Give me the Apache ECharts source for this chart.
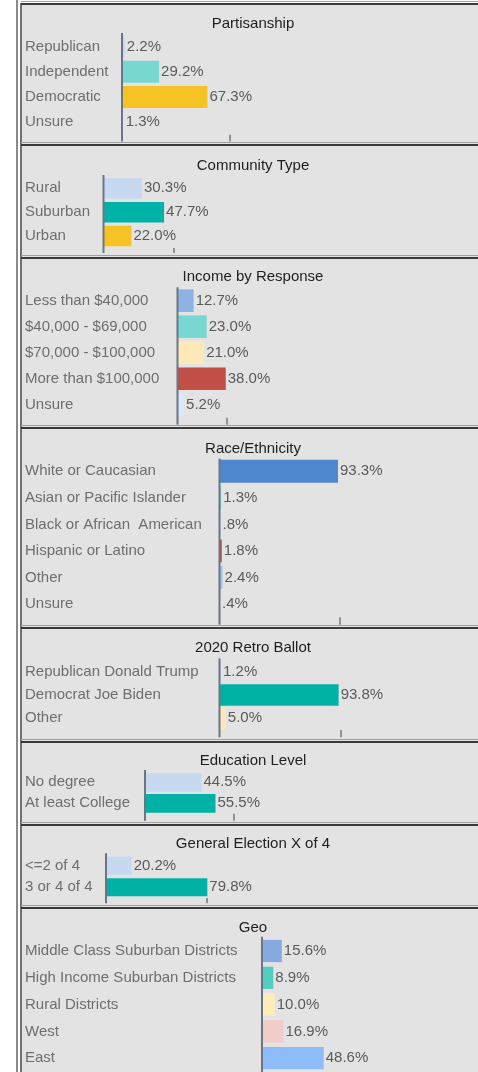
<!DOCTYPE html>
<html>
<head>
<meta charset="utf-8">
<title>Survey Profile</title>
<script src="https://cdn.jsdelivr.net/npm/echarts@6/dist/echarts.min.js"></script>
<style>
  html, body { margin: 0; padding: 0; background: #ffffff; overflow: hidden; }
  #chart { width: 478px; height: 1072px; }
</style>
</head>
<body>
<div id="chart"></div>
<script>
// ---- data ----
const partisanshipCats = ['Republican', 'Independent', 'Democratic', 'Unsure'];
const partisanshipVals = [2.2, 29.2, 67.3, 1.3];

const communityCats = ['Rural', 'Suburban', 'Urban'];
const communityVals = [30.3, 47.7, 22.0];

const incomeCats = ['Less than $40,000', '$40,000 - $69,000', '$70,000 - $100,000', 'More than $100,000', 'Unsure'];
const incomeVals = [12.7, 23.0, 21.0, 38.0, 5.2];

const raceCats = ['White or Caucasian', 'Asian or Pacific Islander', 'Black or African  American', 'Hispanic or Latino', 'Other', 'Unsure'];
const raceVals = [93.3, 1.3, 0.8, 1.8, 2.4, 0.4];

const ballotCats = ['Republican Donald Trump', 'Democrat Joe Biden', 'Other'];
const ballotVals = [1.2, 93.8, 5.0];

const educationCats = ['No degree', 'At least College'];
const educationVals = [44.5, 55.5];

const generalCats = ['<=2 of 4', '3 or 4 of 4'];
const generalVals = [20.2, 79.8];

const geoCats = ['Middle Class Suburban Districts', 'High Income Suburban Districts', 'Rural Districts', 'West', 'East'];
const geoVals = [15.6, 8.9, 10.0, 16.9, 48.6];

// single tick mark shown under each value axis
const partisanshipTick = [85];
const communityTick = [55];
const incomeTick = [38.5];
const raceTick = [95];
const ballotTick = [95.5];
const educationTick = [70];
const generalTick = [79];
const geoTick = [];

// ---- styling ----
const LIGHT_BLUE = '#c6d9f0';
const TEAL = '#00b2a5';
const AQUA = '#78d8d1';
const GOLD = '#f6c325';
const CREAM = '#fde9b8';
const RED = '#c24f45';
const PALE = '#dce9f8';

const panels = [
  { title: 'Partisanship', cats: partisanshipCats, vals: partisanshipVals, tick: partisanshipTick,
    colors: [LIGHT_BLUE, AQUA, GOLD, PALE],
    top: 4, titleY: 24, axisX: 122, bandTop: 34, band: 25.2, lineTop: 33, lineBottom: 141.5, gap: '13%' },
  { title: 'Community Type', cats: communityCats, vals: communityVals, tick: communityTick,
    colors: [LIGHT_BLUE, TEAL, GOLD],
    top: 145, titleY: 165.7, axisX: 103.5, bandTop: 176.4, band: 23.85, lineTop: 175, lineBottom: 253, gap: '14%' },
  { title: 'Income by Response', cats: incomeCats, vals: incomeVals, tick: incomeTick,
    colors: ['#8db3e2', AQUA, CREAM, RED, PALE],
    top: 258, titleY: 277.3, axisX: 177.5, bandTop: 287.7, band: 26, lineTop: 287.3, lineBottom: 424.7, gap: '13%' },
  { title: 'Race/Ethnicity', cats: raceCats, vals: raceVals, tick: raceTick,
    colors: ['#4f87cf', AQUA, LIGHT_BLUE, RED, '#9fc3ee', PALE],
    top: 428, titleY: 448.7, axisX: 219.5, bandTop: 458, band: 26.55, lineTop: 458.7, lineBottom: 624.7, gap: '14%' },
  { title: '2020 Retro Ballot', cats: ballotCats, vals: ballotVals, tick: ballotTick,
    colors: [LIGHT_BLUE, TEAL, CREAM],
    top: 628, titleY: 648.3, axisX: 219.5, bandTop: 660, band: 23.33, lineTop: 658.3, lineBottom: 737.3, gap: '8%' },
  { title: 'Education Level', cats: educationCats, vals: educationVals, tick: educationTick,
    colors: [LIGHT_BLUE, TEAL],
    top: 742, titleY: 760.7, axisX: 145, bandTop: 771.8, band: 21, lineTop: 770, lineBottom: 820.7, gap: '11%' },
  { title: 'General Election X of 4', cats: generalCats, vals: generalVals, tick: generalTick,
    colors: [LIGHT_BLUE, TEAL],
    top: 825, titleY: 844.3, axisX: 106, bandTop: 854.9, band: 21.6, lineTop: 853.3, lineBottom: 903.3, gap: '16%' },
  { title: 'Geo', cats: geoCats, vals: geoVals, tick: geoTick,
    colors: ['#86a9e0', '#4ecfc0', '#fdedb8', '#f0cdc8', '#8dbcf8'],
    top: 908, titleY: 927.7, axisX: 262, bandTop: 937.6, band: 26.8, lineTop: 936.7, lineBottom: 1090, gap: '17%' }
];

const FONT = 'Liberation Sans, Arial, sans-serif';
const FONT_SIZE = 15;
const LABEL_LEFT = 25;
const PX_PER_PCT = 1.27;

function pct(v) {
  let s = v.toFixed(1);
  if (s.startsWith('0.')) s = s.slice(1);
  return s + '%';
}

const grids = [], xAxes = [], yAxes = [], series = [];
const graphics = [];

// panel background and left frame
graphics.push({ type: 'rect', shape: { x: 20, y: 4, width: 470, height: 1080 },
  style: { fill: '#e3e3e3' }, z: -10 });
graphics.push({ type: 'line', shape: { x1: 17, y1: 0, x2: 17, y2: 1072 },
  style: { stroke: '#8a8a8a', lineWidth: 2 }, z: 50 });
graphics.push({ type: 'line', shape: { x1: 21, y1: 3, x2: 21, y2: 1072 },
  style: { stroke: '#4a4a4a', lineWidth: 1.5 }, z: 50 });

panels.forEach((p, i) => {
  const n = p.cats.length;
  const gridHeight = n * p.band;
  const gridBottom = p.bandTop + gridHeight;

  grids.push({ left: p.axisX, top: p.bandTop, width: 100 * PX_PER_PCT, height: gridHeight, containLabel: false });

  xAxes.push({
    gridIndex: i, type: 'value', min: 0, max: 100,
    axisLine: { show: false }, splitLine: { show: false }, axisLabel: { show: false },
    axisTick: { show: p.tick.length > 0, customValues: p.tick, length: p.lineBottom - gridBottom,
      lineStyle: { color: '#7a7a7a', width: 1.5 } }
  });

  yAxes.push({
    gridIndex: i, type: 'category', inverse: true, data: p.cats,
    axisLine: { show: false }, axisTick: { show: false }, splitLine: { show: false },
    axisLabel: { align: 'left', margin: p.axisX - LABEL_LEFT, color: '#6e6e6e',
      fontFamily: FONT, fontSize: FONT_SIZE }
  });

  series.push({
    type: 'bar', xAxisIndex: i, yAxisIndex: i,
    barCategoryGap: p.gap,
    data: p.vals.map((v, k) => ({ value: v, itemStyle: { color: p.colors[k] } })),
    label: { show: true, position: 'right', distance: 2, color: '#5a5a5a',
      fontFamily: FONT, fontSize: FONT_SIZE, formatter: (d) => pct(d.value) },
    animation: false
  });

  // title
  graphics.push({ type: 'text', x: 253, y: p.titleY, z: 60,
    style: { text: p.title, fill: '#1e1e1e', font: FONT_SIZE + 'px ' + FONT,
      textAlign: 'center', textVerticalAlign: 'middle', align: 'center', verticalAlign: 'middle' } });

  // category axis line
  graphics.push({ type: 'line', z: 60,
    shape: { x1: p.axisX, y1: p.lineTop, x2: p.axisX, y2: p.lineBottom },
    style: { stroke: '#6b7585', lineWidth: 2 } });

  // separator above the panel
  graphics.push({ type: 'line', z: 55,
    shape: { x1: 21, y1: p.top - 2.5, x2: 490, y2: p.top - 2.5 },
    style: { stroke: '#a0a0a0', lineWidth: 1 } });
  graphics.push({ type: 'line', z: 56,
    shape: { x1: 21, y1: p.top, x2: 490, y2: p.top },
    style: { stroke: '#3a3a3a', lineWidth: 2 } });
});

const chart = echarts.init(document.getElementById('chart'), null, { renderer: 'canvas' });
chart.setOption({
  backgroundColor: '#ffffff',
  animation: false,
  grid: grids,
  xAxis: xAxes,
  yAxis: yAxes,
  series: series,
  graphic: { elements: graphics }
});
</script>
</body>
</html>
